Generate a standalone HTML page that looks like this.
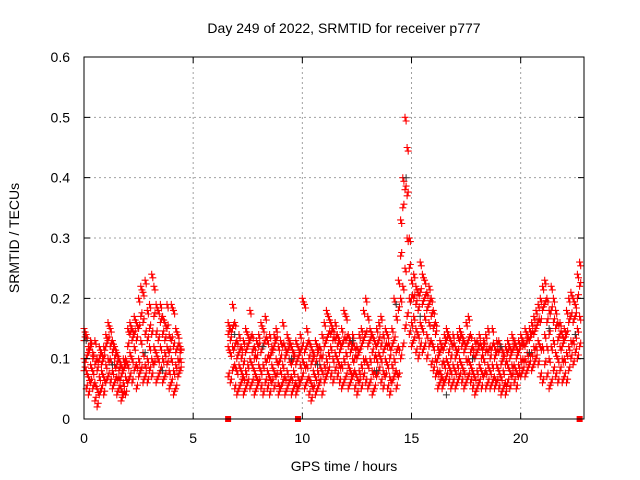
<!DOCTYPE html>
<html><head><meta charset="utf-8">
<style>
html,body{margin:0;padding:0;background:#fff;}
svg{display:block;font-family:"Liberation Sans",sans-serif;}
</style></head>
<body>
<svg id="chart" width="640" height="480" viewBox="0 0 640 480">
  <rect x="0" y="0" width="640" height="480" fill="#fff"/>
  <text x="344" y="33" font-size="14" text-anchor="middle" fill="#000">Day 249 of 2022, SRMTID for receiver p777</text>
  <text x="344" y="471" font-size="14" text-anchor="middle" fill="#000">GPS time / hours</text>
  <text x="0" y="0" font-size="14" text-anchor="middle" fill="#000" transform="translate(19,238) rotate(-90)">SRMTID / TECUs</text>
  <g id="grid"></g>
  <g id="points"></g>
  <g id="axes"></g>
</svg>
<script>
const xTicks=[0,5,10,15,20];
const yTicks=[0,0.1,0.2,0.3,0.4,0.5,0.6];
const yTickLabels=["0","0.1","0.2","0.3","0.4","0.5","0.6"];
const seg1Start=0.0;
const seg1=[[.08,.1,.13,.15],[.05,.08,.1,.14],[.04,.07,.11,.12],[.06,.09,.12,.13],[.05,.08,.1,.11],[.03,.06,.09,.13],[.02,.05,.08,.1],[.04,.07,.1,.12],[.05,.08,.09,.11],[.04,.07,.1,.12],
[.06,.09,.12,.14],[.07,.1,.13,.16],[.06,.1,.12,.15],[.05,.08,.11,.13],[.06,.09,.1,.12],[.04,.07,.09,.11],[.05,.07,.08,.1],[.03,.05,.07,.09],[.04,.06,.08,.1],[.04,.07,.09,.1],
[.06,.09,.12,.15],[.07,.11,.14,.16],[.06,.1,.13,.15],[.08,.12,.14,.17],[.05,.09,.13,.16],[.07,.1,.15,.2],[.08,.13,.17,.22],[.06,.11,.16,.21],[.07,.09,.14,.23],[.06,.1,.13,.18],
[.08,.12,.15,.19],[.07,.1,.14,.24],[.09,.12,.17,.22],[.06,.11,.14,.19],[.07,.1,.13,.18],[.08,.12,.16,.19],[.06,.1,.14,.17],[.07,.11,.13,.16],[.09,.12,.15,.19],[.05,.08,.11,.14],
[.06,.1,.13,.19],[.04,.08,.12,.18],[.05,.09,.11,.15],[.07,.1,.12,.14],[.08,.1,.11,.12]];
const seg2Start=6.6;
const seg2=[[.07,.12,.14,.16],[.06,.11,.13,.15],[.08,.12,.15,.19],[.05,.09,.12,.16],
[.04,.08,.1,.13],[.05,.09,.11,.14],[.06,.08,.1,.12],[.04,.07,.09,.13],[.05,.08,.11,.15],[.06,.09,.12,.14],[.05,.1,.13,.18],[.06,.09,.11,.14],[.04,.08,.1,.12],[.05,.07,.1,.13],
[.06,.09,.12,.14],[.05,.08,.11,.16],[.04,.09,.12,.15],[.06,.1,.13,.17],[.05,.08,.1,.13],[.04,.07,.1,.14],[.06,.09,.11,.12],[.05,.08,.12,.14],[.07,.1,.13,.15],[.04,.06,.09,.12],
[.05,.08,.1,.13],[.06,.09,.12,.16],[.04,.07,.1,.12],[.05,.08,.11,.14],[.06,.1,.12,.13],[.04,.07,.09,.12],[.05,.08,.1,.11],[.04,.06,.09,.13],[.05,.07,.1,.12],[.06,.09,.11,.14],
[.07,.1,.12,.2],[.05,.09,.11,.19],[.06,.09,.12,.15],[.04,.07,.1,.13],[.03,.06,.09,.12],[.05,.08,.1,.11],[.04,.07,.09,.13],[.05,.08,.11,.12],[.06,.09,.1,.12],[.04,.08,.1,.14],
[.06,.09,.12,.16],[.07,.1,.13,.18],[.08,.11,.14,.17],[.07,.12,.14,.16],[.06,.1,.13,.15],[.08,.11,.13,.16],[.07,.1,.12,.14],[.06,.09,.11,.13],[.05,.09,.12,.15],[.06,.1,.13,.18],
[.07,.11,.13,.17],[.05,.09,.12,.14],[.06,.08,.11,.13],[.07,.1,.12,.14],[.05,.08,.1,.12],[.04,.07,.1,.12],[.06,.08,.11,.14],[.05,.09,.12,.15],[.07,.1,.13,.18],[.06,.1,.14,.2],
[.05,.09,.12,.17],[.06,.1,.13,.15],[.04,.08,.11,.14],[.05,.08,.1,.13],[.07,.1,.12,.15],[.08,.11,.13,.16],[.06,.1,.12,.17],[.05,.08,.11,.14],[.07,.1,.12,.15],[.05,.09,.12,.14],
[.04,.07,.1,.12],[.06,.09,.12,.15],[.07,.1,.13,.2],[.05,.08,.11,.17],[.07,.12,.18,.23],[.1,.2,.27,.33],[.12,.22,.35,.4],[.15,.25,.38,.5],[.17,.3,.37,.45],[.14,.2,.25,.3],
[.12,.16,.2,.23],[.13,.17,.2,.24],[.11,.15,.19,.22],[.1,.14,.18,.21],[.12,.16,.21,.26],[.11,.15,.19,.24],[.12,.17,.2,.23],[.1,.14,.18,.21],[.12,.16,.19,.22],[.09,.13,.17,.2],
[.08,.12,.15,.18],[.07,.1,.14,.16],[.05,.08,.1,.12],[.06,.08,.11,.13],[.05,.07,.09,.12],[.06,.09,.12,.14],[.07,.1,.13,.15],[.06,.09,.11,.14],[.05,.08,.1,.13],[.06,.09,.12,.14],
[.05,.08,.1,.12],[.06,.09,.11,.14],[.07,.1,.13,.15],[.06,.09,.12,.14],[.05,.08,.11,.13],[.06,.1,.12,.16],[.07,.1,.13,.17],[.06,.09,.11,.14],[.05,.08,.1,.12],[.04,.07,.1,.13],
[.05,.08,.11,.13],[.06,.09,.12,.14],[.05,.08,.1,.12],[.07,.1,.12,.13],[.05,.08,.11,.14],[.06,.09,.11,.15],[.05,.08,.1,.12],[.06,.09,.12,.15],[.05,.07,.1,.12],[.06,.09,.11,.13],
[.05,.08,.11,.13],[.04,.07,.09,.12],[.05,.08,.1,.11],[.04,.06,.09,.12],[.06,.09,.11,.13],[.05,.08,.1,.12],[.07,.09,.11,.14],[.06,.09,.12,.13],[.05,.08,.1,.12],[.07,.09,.11,.13],
[.07,.1,.12,.14],[.08,.1,.12,.13],[.07,.1,.12,.15],[.08,.11,.13,.14],[.09,.11,.13,.15],[.08,.11,.14,.16],[.09,.12,.14,.17],[.1,.12,.15,.18],[.09,.13,.16,.19],[.07,.12,.16,.2],
[.06,.12,.18,.22],[.09,.14,.19,.23],[.07,.12,.16,.2],[.05,.1,.14,.18],[.06,.12,.18,.22],[.08,.13,.16,.2],[.07,.11,.15,.18],[.06,.1,.13,.16],[.08,.12,.14,.16],[.06,.1,.12,.14],
[.07,.1,.13,.15],[.06,.11,.14,.18],[.08,.12,.16,.2],[.1,.13,.17,.21],[.09,.13,.16,.2],[.11,.14,.17,.19],[.1,.15,.2,.24],[.12,.17,.22,.26]];
const stepHours=0.1;
const darkTimes=[0.1,1.3,2.8,3.6,6.9,8.2,9.5,10.7,12.3,13.4,14.3,14.75,15.4,16.6,17.8,19.1,20.4,21.3,22.5];
const darkValues=[0.13,0.09,0.11,0.08,0.14,0.12,0.1,0.09,0.13,0.08,0.19,0.4,0.17,0.04,0.1,0.12,0.11,0.15,0.14];
const zeroMarkTimes=[6.6,9.8,22.7];
const XMIN=0,XMAX=22.9,YMIN=0,YMAX=0.6;
const L=84,R=584,T=57,B=419;
const NS="http://www.w3.org/2000/svg";
function xs(v){return L+(v-XMIN)/(XMAX-XMIN)*(R-L);}
function ys(v){return B-(v-YMIN)/(YMAX-YMIN)*(B-T);}
function mk(tag,attrs,parent){const e=document.createElementNS(NS,tag);for(const k in attrs)e.setAttribute(k,attrs[k]);parent.appendChild(e);return e;}
const grid=document.getElementById('grid'),pts=document.getElementById('points'),axes=document.getElementById('axes');
xTicks.forEach(t=>{
  if(t>XMIN){const g=mk('line',{x1:xs(t),x2:xs(t),y1:T,y2:B,stroke:'#a0a0a0','stroke-dasharray':'2,3','stroke-width':1},grid);
  
  }
});
yTicks.forEach(t=>{
  if(t>YMIN&&t<YMAX){const g=mk('line',{x1:L,x2:R,y1:ys(t),y2:ys(t),stroke:'#a0a0a0','stroke-dasharray':'2,3','stroke-width':1},grid);
  
  }
});
let d='';
function plus(t,v){const x=xs(t),y=ys(v);return `M${(x-3.5).toFixed(1)} ${y.toFixed(1)}h7M${x.toFixed(1)} ${(y-3.5).toFixed(1)}v7`;}
// each sample plotted at its time and at the half-step (samples are taken every 0.05 h; 4 readings per bin)
function drawSeg(seg,start){
  seg.forEach((arr,i)=>{
    const t=start+i*stepHours;
    arr.forEach((v,j)=>{
      d+=plus(t,v);
      d+=plus(t+stepHours/2,v+(j%2?-0.006:0.006));
    });
  });
}
drawSeg(seg1,seg1Start);
drawSeg(seg2,seg2Start);
const redPath=mk('path',{d:d,stroke:'#ff0000','stroke-width':1.1,fill:'none'},pts);


let dd='';
darkTimes.forEach((t,i)=>{dd+=plus(t,darkValues[i]);});
const darkPath=mk('path',{d:dd,stroke:'#333','stroke-width':1,fill:'none'},pts);


zeroMarkTimes.forEach(t=>{
  const r=mk('rect',{x:xs(t)-3,y:B-3,width:6,height:6,fill:'#ff0000'},pts);
  
  
});
const box=mk('rect',{x:L,y:T,width:R-L,height:B-T,fill:'none',stroke:'#000','stroke-width':1},axes);


xTicks.forEach(t=>{
  const x=xs(t);
  const tk=mk('path',{d:`M${x} ${B}v-6M${x} ${T}v6`,stroke:'#000'},axes);
  
  
  const lb=mk('text',{x:x,y:B+24,'font-size':14,'text-anchor':'middle',fill:'#000'},axes);
  lb.textContent=String(t);
  
  
});
yTicks.forEach((t,i)=>{
  const y=ys(t);
  const tk=mk('path',{d:`M${L} ${y}h6M${R} ${y}h-6`,stroke:'#000'},axes);
  
  
  const lb=mk('text',{x:L-14,y:y+5,'font-size':14,'text-anchor':'end',fill:'#000'},axes);
  lb.textContent=yTickLabels[i];
  
  
});
</script>
</body></html>
